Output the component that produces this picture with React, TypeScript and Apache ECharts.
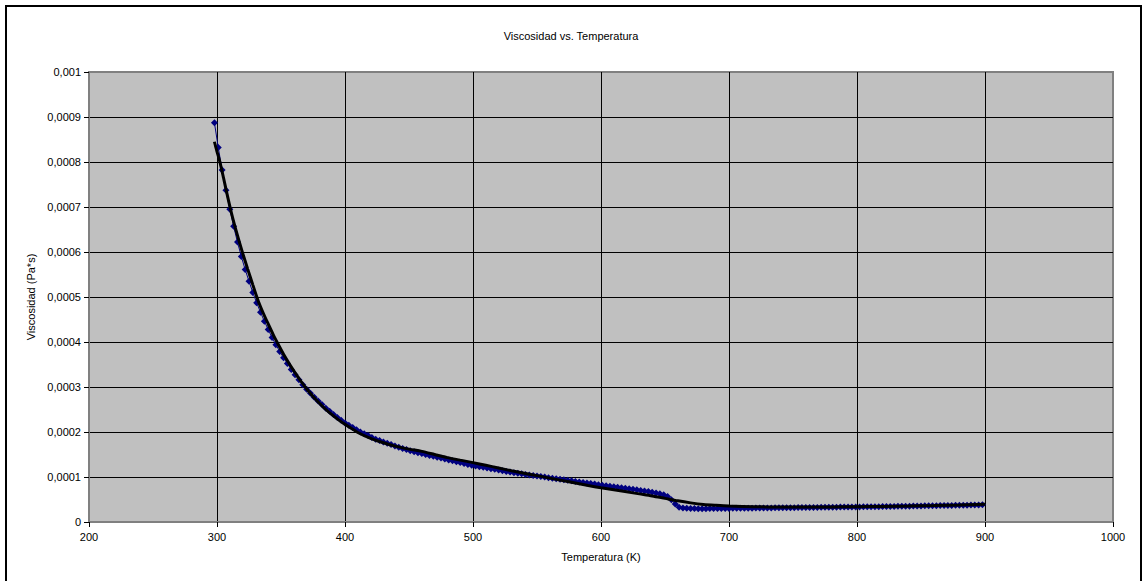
import React, { useEffect, useRef } from "react";
import * as echarts from "echarts";

// Measured viscosity of water vs. temperature (K), viscosity in µPa·s
const temperatures = [
  298, 301, 304, 307, 310, 313, 316, 319, 322, 325, 328, 331, 334, 337, 340, 343, 346, 349, 352, 355,
  358, 361, 364, 367, 370, 373, 376, 379, 382, 385, 388, 391, 394, 397, 400, 403, 406, 409, 412, 415,
  418, 421, 424, 427, 430, 433, 436, 439, 442, 445, 448, 451, 454, 457, 460, 463, 466, 469, 472, 475,
  478, 481, 484, 487, 490, 493, 496, 499, 502, 505, 508, 511, 514, 517, 520, 523, 526, 529, 532, 535,
  538, 541, 544, 547, 550, 553, 556, 559, 562, 565, 568, 571, 574, 577, 580, 583, 586, 589, 592, 595,
  598, 601, 604, 607, 610, 613, 616, 619, 622, 625, 628, 631, 634, 637, 640, 643, 646, 649, 652, 655,
  658, 661, 664, 667, 670, 673, 676, 679, 682, 685, 688, 691, 694, 697, 700, 703, 706, 709, 712, 715,
  718, 721, 724, 727, 730, 733, 736, 739, 742, 745, 748, 751, 754, 757, 760, 763, 766, 769, 772, 775,
  778, 781, 784, 787, 790, 793, 796, 799, 802, 805, 808, 811, 814, 817, 820, 823, 826, 829, 832, 835,
  838, 841, 844, 847, 850, 853, 856, 859, 862, 865, 868, 871, 874, 877, 880, 883, 886, 889, 892, 895,
  898,
];

const viscosityMicro = [
  887, 832, 782, 737, 695, 657, 622, 590, 561, 535, 510, 487, 466, 446, 428, 410, 394, 379, 365, 352,
  339, 327, 316, 305, 295, 286, 277, 269, 261, 253, 246, 239, 232, 226, 220, 215, 210, 205, 200, 196,
  192, 188, 184, 181, 178, 175, 172, 169, 166, 163.5, 161, 158.5, 156, 154, 152, 150, 148, 146, 144, 142,
  140, 138, 136, 134, 132, 130, 128, 126, 124.5, 123, 121.5, 120, 118.5, 117, 115.5, 114, 112.5, 111, 109.5, 108.3,
  107, 105.8, 104.6, 103.4, 102.2, 101, 99.8, 98.6, 97.4, 96.2, 95, 93.8, 92.6, 91.4, 90.2, 89, 87.8, 86.6, 85.4, 84.2,
  83, 81.8, 80.6, 79.4, 78.2, 77, 75.9, 74.8, 73.7, 72.6, 71.4, 70.2, 69, 67.7, 66.3, 64.7, 62.8, 60.3, 56.5, 49.5,
  40, 33, 31, 30.3, 30, 29.8, 29.7, 29.7, 29.7, 29.8, 29.8, 29.9, 30, 30.1, 30.2, 30.3, 30.4, 30.5, 30.6, 30.7,
  30.8, 30.9, 31, 31.1, 31.2, 31.3, 31.4, 31.5, 31.6, 31.7, 31.8, 31.9, 32, 32.1, 32.2, 32.3, 32.4, 32.5, 32.6, 32.7,
  32.8, 32.9, 33, 33.1, 33.2, 33.3, 33.4, 33.5, 33.6, 33.7, 33.8, 33.9, 34, 34.1, 34.2, 34.35, 34.5, 34.65, 34.8, 34.95,
  35.1, 35.25, 35.4, 35.55, 35.7, 35.85, 36, 36.15, 36.3, 36.45, 36.6, 36.75, 36.9, 37.05, 37.2, 37.35, 37.5, 37.65, 37.8, 37.95,
  38.1,
];

// Polynomial trend line through the measurements
const trendTemperatures = [
  298, 300, 302, 305, 308, 311, 314, 317, 320, 324, 328, 332, 336, 340, 344, 348, 352, 356, 360, 365,
  370, 375, 380, 385, 390, 395, 400, 410, 420, 430, 440, 450, 460, 470, 480, 490, 500, 510, 520, 530,
  540, 550, 560, 570, 580, 590, 600, 610, 620, 630, 640, 650, 660, 670, 680, 690, 700, 720, 740, 760,
  780, 800, 820, 840, 860, 880, 900,
];
const trendMicro = [
  845, 823, 803, 766, 727, 690, 657, 627, 598, 562, 527, 493, 465, 440, 416, 394, 373, 354, 336, 315,
  296, 279, 264, 250, 238, 227, 217, 199, 186, 176, 168, 162, 157, 150, 143, 137.5, 132, 126, 120, 114,
  108.5, 103, 97.5, 92, 86.5, 81, 76, 71.5, 67, 62.5, 58, 52.5, 47, 42.5, 39, 37, 35.5, 34, 33.3, 33.2,
  33.5, 34, 34.7, 35.5, 36.5, 37.8, 39.5,
];

const titleText = "Viscosidad vs. Temperatura";
const xAxisTitle = "Temperatura (K)";
const yAxisTitle = "Viscosidad (Pa*s)";

const FONT = "'Liberation Sans', Arial, Helvetica, sans-serif";

const toPaS = (v: number) => v * 1e-6;

export default function App() {
  const ref = useRef<HTMLDivElement>(null);

  useEffect(() => {
    if (!ref.current) return;
    const chart = echarts.init(ref.current, undefined, { renderer: "svg" });

    const measured = temperatures.map((t, i) => [t, toPaS(viscosityMicro[i])]);
    const trend = trendTemperatures.map((t, i) => [t, toPaS(trendMicro[i])]);

    const yFormatter = (v: number) => {
      if (v === 0) return "0";
      return String(Number(v.toFixed(4))).replace(".", ",");
    };
    const xFormatter = (v: number) => String(v);

    chart.setOption({
      animation: false,
      backgroundColor: "#ffffff",
      title: {
        text: titleText,
        left: "center",
        top: 25,
        textStyle: { fontFamily: FONT, fontSize: 11, fontWeight: "normal", color: "#000" },
      },
      graphic: [
        {
          type: "rect",
          shape: { x: 6, y: 6, width: 1135, height: 600 },
          style: { fill: "none", stroke: "#000", lineWidth: 2 },
          silent: true,
          z: 100,
        },
      ],
      grid: {
        left: 89,
        top: 72,
        right: 29,
        bottom: 59,
        show: true,
        backgroundColor: "#C0C0C0",
        borderColor: "#808080",
        borderWidth: 2,
      },
      xAxis: {
        type: "value",
        min: 200,
        max: 1000,
        interval: 100,
        name: xAxisTitle,
        nameLocation: "middle",
        nameGap: 29,
        nameTextStyle: { fontFamily: FONT, fontSize: 11, color: "#000" },
        axisLine: { show: true, lineStyle: { color: "#808080", width: 2 } },
        axisTick: { show: true, inside: false, length: 5, lineStyle: { color: "#000", width: 1 } },
        axisLabel: { fontFamily: FONT, fontSize: 11, color: "#000", margin: 9, formatter: xFormatter },
        splitLine: { show: true, showMinLine: false, showMaxLine: false, lineStyle: { color: "#000", width: 1 } },
      },
      yAxis: {
        type: "value",
        min: 0,
        max: 0.001,
        interval: 0.0001,
        name: yAxisTitle,
        nameLocation: "middle",
        nameRotate: 90,
        nameGap: 51,
        nameTextStyle: { fontFamily: FONT, fontSize: 11, color: "#000" },
        axisLine: { show: true, lineStyle: { color: "#808080", width: 2 } },
        axisTick: { show: true, inside: false, length: 5, lineStyle: { color: "#000", width: 1 } },
        axisLabel: { fontFamily: FONT, fontSize: 11, color: "#000", margin: 8, formatter: yFormatter },
        splitLine: { show: true, showMinLine: false, showMaxLine: false, lineStyle: { color: "#000", width: 1 } },
      },
      series: [
        {
          name: "Viscosidad",
          type: "line",
          data: measured,
          symbol: "diamond",
          symbolSize: 7,
          showSymbol: true,
          showAllSymbol: true,
          lineStyle: { color: "#000080", width: 1 },
          itemStyle: { color: "#000080" },
          z: 2,
        },
        {
          name: "Tendencia",
          type: "line",
          data: trend,
          smooth: 0.3,
          symbol: "none",
          lineStyle: { color: "#000000", width: 3 },
          z: 3,
        },
      ],
    });

    return () => chart.dispose();
  }, []);

  return (
    <div
      ref={ref}
      style={{ position: "fixed", left: 0, top: 0, width: 1142, height: 581, background: "#fff" }}
    />
  );
}
